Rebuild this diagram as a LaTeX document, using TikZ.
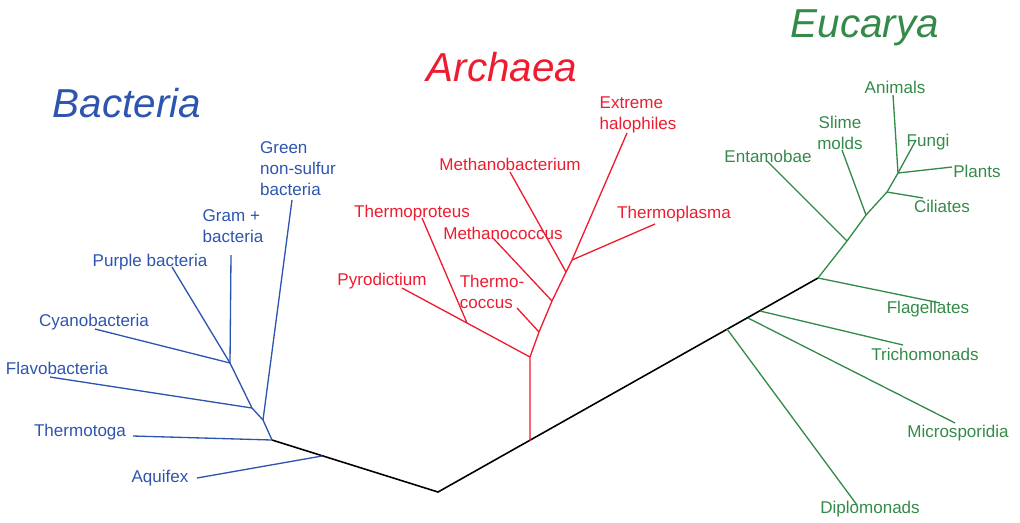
\documentclass[tikz,border=0pt]{standalone}
\usepackage{fontspec}
\setmainfont{Liberation Sans}
\usetikzlibrary{positioning}

\definecolor{bactblue}{RGB}{45,85,175}
\definecolor{archred}{RGB}{238,28,48}
\definecolor{eukgreen}{RGB}{52,138,72}

\begin{document}
\begin{tikzpicture}[x=0.02cm, y=-0.02cm,
    taxon/.style = {font=\fontsize{9.7}{12}\selectfont, inner sep=0pt},
    realm/.style = {font=\fontsize{23}{26}\selectfont\itshape, inner sep=0pt},
    branch/.style = {line width=0.75pt}]
    \useasboundingbox (0,0) rectangle (1020,522);

    % Backbone
    \coordinate (root) at (438,492);
    \coordinate (bac) at (272,440);
    \coordinate (euk) at (818,278);
    \coordinate (aqx) at (322,456);
    \coordinate (arc) at (530,441);
    \coordinate (dip) at (727,329);
    \coordinate (mic) at (748,318);
    \coordinate (tri) at (760,311);

    % Bacteria nodes
    \node[realm, text=bactblue] (bactitle) at (127,103) {Bacteria};
    \node[taxon, text=bactblue] (aquifex) at (160,478) {Aquifex};
    \node[taxon, text=bactblue] (thermotoga) at (80,432) {Thermotoga};
    \node[taxon, text=bactblue] (flavo) at (57,368) {Flavobacteria};
    \node[taxon, text=bactblue] (cyano) at (94,322) {Cyanobacteria};
    \node[taxon, text=bactblue] (purple) at (150,262) {Purple bacteria};
    \node[taxon, text=bactblue, align=left] (gram) at (233,226) {Gram +\\bacteria};
    \node[taxon, text=bactblue, align=left] (green) at (298,169) {Green\\non-sulfur\\bacteria};

    \coordinate (b1) at (263,420);
    \coordinate (b2) at (252,408);
    \coordinate (b3) at (230,363);
    \coordinate (aquifex-t) at (197,478);
    \coordinate (thermotoga-t) at (133,436);
    \coordinate (flavo-t) at (50,377);
    \coordinate (cyano-t) at (95,329);
    \coordinate (purple-t) at (172,267);
    \coordinate (gram-t) at (231,255);
    \coordinate (green-t) at (292,200);

    % Archaea nodes
    \node[realm, text=archred] (arctitle) at (502,67) {Archaea};
    \node[taxon, text=archred] (pyro) at (382,281) {Pyrodictium};
    \node[taxon, text=archred] (tprot) at (412,213) {Thermoproteus};
    \node[taxon, text=archred, align=left] (tcocc) at (492,292) {Thermo-\\coccus};
    \node[taxon, text=archred] (mcocc) at (503,233) {Methanococcus};
    \node[taxon, text=archred] (mbact) at (510,164) {Methanobacterium};
    \node[taxon, text=archred] (tplasma) at (674,214) {Thermoplasma};
    \node[taxon, text=archred, align=left] (halo) at (638,115) {Extreme\\halophiles};

    \coordinate (a0) at (530,357);
    \coordinate (a1) at (467,323);
    \coordinate (a2) at (539,332);
    \coordinate (a3) at (552,301);
    \coordinate (a4) at (566,272);
    \coordinate (a5) at (572,260);
    \coordinate (pyro-t) at (402,288);
    \coordinate (tprot-t) at (422,218);
    \coordinate (tcocc-t) at (517,308);
    \coordinate (mcocc-t) at (493,238);
    \coordinate (mbact-t) at (510,172);
    \coordinate (tplasma-t) at (655,224);
    \coordinate (halo-t) at (627,133);

    % Eucarya nodes
    \node[realm, text=eukgreen] (euktitle) at (865,28) {Eucarya};
    \node[taxon, text=eukgreen] (entam) at (768,156) {Entamobae};
    \node[taxon, text=eukgreen, align=center] (slime) at (840,133) {Slime\\molds};
    \node[taxon, text=eukgreen] (animals) at (895,87) {Animals};
    \node[taxon, text=eukgreen] (fungi) at (928,142) {Fungi};
    \node[taxon, text=eukgreen] (plants) at (977,171) {Plants};
    \node[taxon, text=eukgreen] (ciliates) at (942,206) {Ciliates};
    \node[taxon, text=eukgreen] (flag) at (928,309) {Flagellates};
    \node[taxon, text=eukgreen] (trich) at (925,354) {Trichomonads};
    \node[taxon, text=eukgreen] (micro) at (958,433) {Microsporidia};
    \node[taxon, text=eukgreen] (diplo) at (870,509) {Diplomonads};

    \coordinate (e1) at (847,241);
    \coordinate (e2) at (866,215);
    \coordinate (e3) at (887,192);
    \coordinate (e4) at (898,173);
    \coordinate (entam-t) at (767,161);
    \coordinate (slime-t) at (842,150);
    \coordinate (animals-t) at (893,95);
    \coordinate (fungi-t) at (916,140);
    \coordinate (plants-t) at (952,167);
    \coordinate (ciliates-t) at (923,198);
    \coordinate (flag-t) at (940,303);
    \coordinate (trich-t) at (903,345);
    \coordinate (micro-t) at (955,423);
    \coordinate (diplo-t) at (857,505);

    % Edges
    \draw[line width=0.9pt] (bac) -- (root) -- (euk);

    \draw[branch, bactblue] (bac) -- (b1) -- (b2) -- (b3);
    \draw[branch, bactblue] (aqx) -- (aquifex-t);
    \draw[branch, bactblue] (bac) -- (thermotoga-t);
    \draw[branch, bactblue] (b1) -- (green-t);
    \draw[branch, bactblue] (b2) -- (flavo-t);
    \draw[branch, bactblue] (b3) -- (cyano-t);
    \draw[branch, bactblue] (b3) -- (purple-t);
    \draw[branch, bactblue] (b3) -- (gram-t);

    \draw[branch, archred] (arc) -- (a0) -- (a2) -- (a3) -- (a4) -- (a5) -- (halo-t);
    \draw[branch, archred] (a0) -- (a1) -- (pyro-t);
    \draw[branch, archred] (a1) -- (tprot-t);
    \draw[branch, archred] (a2) -- (tcocc-t);
    \draw[branch, archred] (a3) -- (mcocc-t);
    \draw[branch, archred] (a4) -- (mbact-t);
    \draw[branch, archred] (a5) -- (tplasma-t);

    \draw[branch, eukgreen] (euk) -- (e1) -- (e2) -- (e3) -- (e4) -- (animals-t);
    \draw[branch, eukgreen] (e1) -- (entam-t);
    \draw[branch, eukgreen] (e2) -- (slime-t);
    \draw[branch, eukgreen] (e3) -- (ciliates-t);
    \draw[branch, eukgreen] (e4) -- (fungi-t);
    \draw[branch, eukgreen] (e4) -- (plants-t);
    \draw[branch, eukgreen] (euk) -- (flag-t);
    \draw[branch, eukgreen] (tri) -- (trich-t);
    \draw[branch, eukgreen] (mic) -- (micro-t);
    \draw[branch, eukgreen] (dip) -- (diplo-t);

\end{tikzpicture}
\end{document}
